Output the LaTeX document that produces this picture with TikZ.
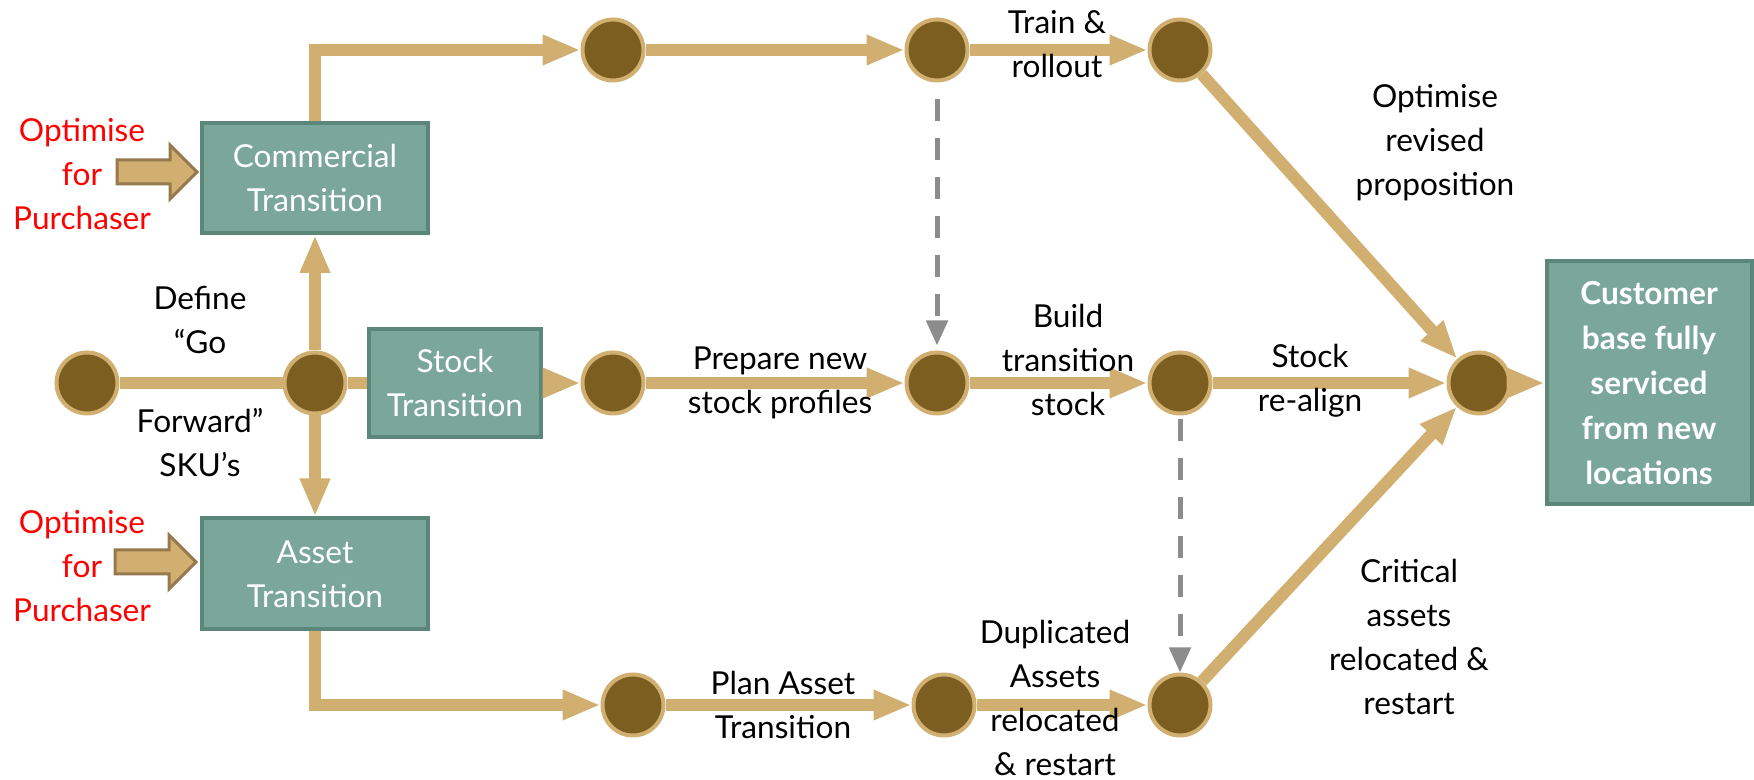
\documentclass[tikz,border=0pt]{standalone}
\usepackage{fontspec}
\setmainfont{Lato}
\usepackage{tikz}
\usetikzlibrary{arrows.meta,positioning}
\definecolor{pathtan}{RGB}{208,175,112}
\definecolor{stagebrown}{RGB}{124,94,32}
\definecolor{boxteal}{RGB}{123,167,155}
\definecolor{boxedge}{RGB}{91,135,123}
\definecolor{inedge}{RGB}{150,122,78}
\definecolor{dashgray}{RGB}{140,140,140}
\tikzset{>=Latex}
\tikzset{
  stage/.style={circle, draw=pathtan, line width=0.4mm, fill=stagebrown, minimum size=6.1mm, inner sep=0pt},
  box/.style={draw=boxedge, line width=0.4mm, fill=boxteal, text=white, align=center, inner sep=0pt},
  flow/.style={draw=pathtan, line width=1.2mm, -{Triangle[length=3.8mm,width=2.8mm]}},
  link/.style={draw=pathtan, line width=1.2mm},
  depend/.style={draw=dashgray, line width=0.5mm, dash pattern=on 2.2mm off 1.7mm, -{Triangle[length=2.5mm,width=2.1mm]}},
  lbl/.style={align=center},
  purch/.style={align=center, text=red},
  input/.style={draw=inedge, fill=pathtan, line width=0.3mm, miter limit=4},
}
\begin{document}
\begin{tikzpicture}[x=0.1mm, y=-0.1mm, font=\fontsize{9}{12.5}\selectfont]
\useasboundingbox (0,0) rectangle (1754,780);

% entry point and hub
\node[stage] (start) at (87,383) {};
\node[stage] (hub) at (315,383) {};

% transition boxes
\node[box, minimum width=22.6mm, minimum height=11mm] (comm) at (315,178) {Commercial\\Transition};
\node[box, minimum width=17.2mm, minimum height=10.8mm] (stock) at (455,383) {Stock\\Transition};
\node[box, minimum width=22.6mm, minimum height=11.1mm] (asset) at (315,574) {Asset\\Transition};

% purchaser inputs (block arrows)
\node[purch] (pc) at (82,174) {Optimise\\for\\Purchaser};
\node[purch] (pa) at (82,566) {Optimise\\for\\Purchaser};
\coordinate (inc) at (117,172);
\coordinate (ina) at (115,562);
\draw[input] (inc) ++(0,-12) -- ++(53,0) -- ++(0,-15) -- ++(27,27) -- ++(-27,27) -- ++(0,-15) -- ++(-53,0) -- cycle;
\draw[input] (ina) ++(0,-12) -- ++(54,0) -- ++(0,-15) -- ++(27,27) -- ++(-27,27) -- ++(0,-15) -- ++(-54,0) -- cycle;

% stages: top, middle, bottom rows
\node[stage] (t1) at (613,50) {};
\node[stage] (t2) at (937,50) {};
\node[stage] (t3) at (1180,50) {};
\node[stage] (m1) at (613,383) {};
\node[stage] (m2) at (937,383) {};
\node[stage] (m3) at (1180,383) {};
\node[stage] (m4) at (1479,383) {};
\node[stage] (b1) at (633,705) {};
\node[stage] (b2) at (944,705) {};
\node[stage] (b3) at (1180,705) {};

% outcome
\node[box, font=\fontsize{9}{12.8}\selectfont\bfseries, minimum width=20.5mm, minimum height=24.3mm] (goal) at (1649,383)
{Customer\\base fully\\serviced\\from new\\locations};

% connectors
\draw[link] (start) -- (hub);
\draw[link] (hub) -- (stock);
\draw[flow] (hub) -- (comm);
\draw[flow] (hub) -- (asset);
\draw[flow] (comm.north) |- (t1);
\draw[flow] (asset.south) |- (b1);
\draw[flow] (stock) -- (m1);
\draw[flow] (t1) -- (t2);
\draw[flow] (t2) -- (t3);
\draw[flow] (t3) -- (m4);
\draw[flow] (m1) -- (m2);
\draw[flow] (m2) -- (m3);
\draw[flow] (m3) -- (m4);
\draw[flow] (b1) -- (b2);
\draw[flow] (b2) -- (b3);
\draw[flow] (b3) -- (m4);
\draw[flow] (m4) -- (goal);

% dependencies
\draw[depend, shorten <=1.7mm, shorten >=0.5mm] (t2) -- (m2);
\draw[depend, shorten <=0.4mm] (m3) -- (b3);

% labels
\node[lbl] (defa) at (200,320) {Define\\“Go};
\node[lbl] (defb) at (200,443) {Forward”\\SKU’s};
\node[lbl] (train) at (1057,44) {Train \&\\rollout};
\node[lbl] (optim) at (1435,143) {Optimise\\revised\\proposition};
\node[lbl] (prep) at (780,383) {Prepare new\\stock profiles};
\node[lbl] (build) at (1068,360) {Build\\transition\\stock};
\node[lbl] (realign) at (1310,381) {Stock\\re-align};
\node[lbl] (crit) at (1409,637) {Critical\\assets\\relocated \&\\restart};
\node[lbl] (plan) at (783,705) {Plan Asset\\Transition};
\node[lbl] (dup) at (1055,698) {Duplicated\\Assets\\relocated\\\& restart};

\end{tikzpicture}
\end{document}
